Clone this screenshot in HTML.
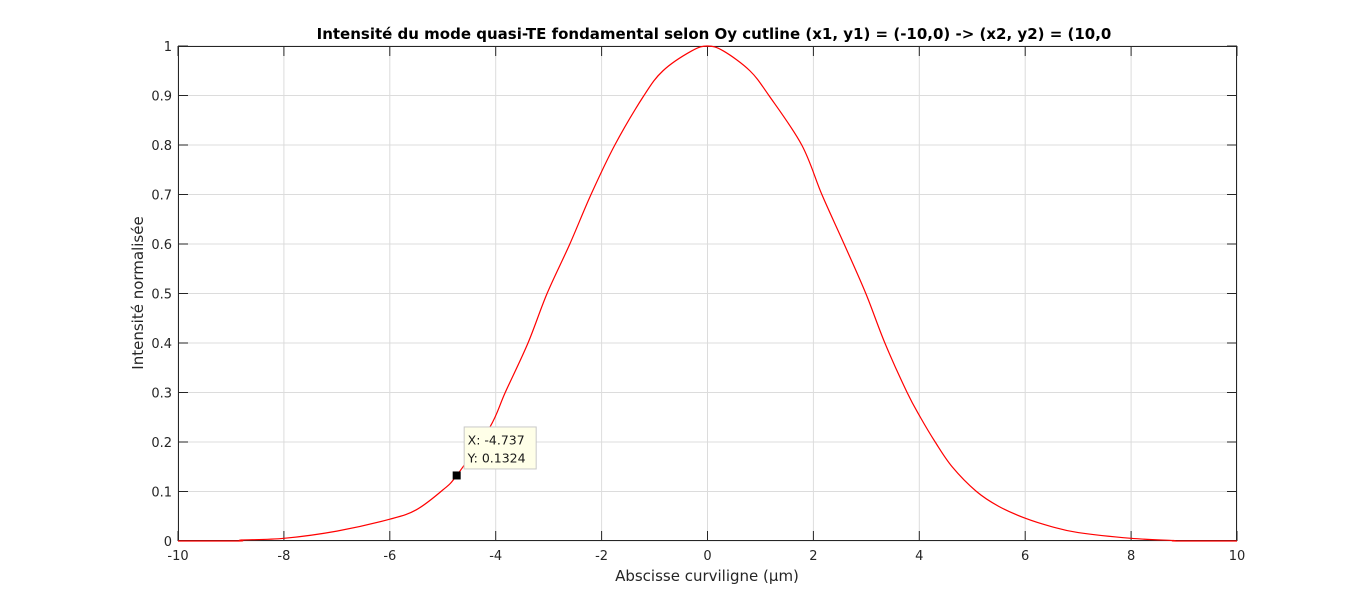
<!DOCTYPE html>
<html><head><meta charset="utf-8"><style>
body{margin:0;background:#fff;width:1366px;height:609px;overflow:hidden}
svg{display:block;font-family:"DejaVu Sans","Liberation Sans",sans-serif}
</style></head><body>
<svg id="chart" width="1366" height="609">
<text x="714" y="39" text-anchor="middle" font-size="15" font-weight="bold" fill="#000">Intensité du mode quasi-TE fondamental selon Oy cutline (x1, y1) = (-10,0) -&gt; (x2, y2) = (10,0</text>
<g id="grid"></g><g id="axes"></g><g id="series"></g><g id="tip"></g>
<text x="707" y="581" text-anchor="middle" font-size="15" fill="#262626">Abscisse curviligne (µm)</text>
<text transform="translate(143,293) rotate(-90)" text-anchor="middle" font-size="15" fill="#262626">Intensité normalisée</text>
</svg>
<script>
const xData=[-10,-8.85,-8.8,-8,-7,-6,-5.5,-5,-4.737,-4.11,-3.82,-3.39,-3.03,-2.6,-2.2,-1.75,-1.2,-0.84,-0.3,0,0.3,0.8,1.16,1.78,2.16,2.58,2.99,3.35,3.77,4.02,4.3,4.62,5.08,5.5,6,6.5,7,8,8.8,8.85,10];
const yData=[0,0,0.002,0.0054,0.02,0.044,0.063,0.103,0.1324,0.23,0.3,0.4,0.5,0.6,0.7,0.8,0.9,0.95,0.99,1,0.99,0.95,0.9,0.8,0.7,0.6,0.5,0.4,0.3,0.25,0.2,0.15,0.1,0.07,0.046,0.029,0.017,0.0054,0.001,0,0];
const xTicks=[-10,-8,-6,-4,-2,0,2,4,6,8,10];
const yTicks=[0,0.1,0.2,0.3,0.4,0.5,0.6,0.7,0.8,0.9,1];
const yTickLabels=["0","0.1","0.2","0.3","0.4","0.5","0.6","0.7","0.8","0.9","1"];
const tipX=-4.737, tipY=0.1324;

const L=178,R=1237,T=46,B=541;
const sx=v=>L+(v+10)/20*(R-L);
const sy=v=>B-v*(B-T);
const NS="http://www.w3.org/2000/svg";
function mk(tag,attrs,parent){const e=document.createElementNS(NS,tag);for(const k in attrs)e.setAttribute(k,attrs[k]);parent.appendChild(e);return e;}
const grid=document.getElementById('grid'),axes=document.getElementById('axes'),series=document.getElementById('series'),tip=document.getElementById('tip');
mk('rect',{x:L,y:T,width:R-L,height:B-T,fill:'#fff'},grid);
xTicks.forEach(t=>{
  const x=sx(t);
  const g=mk('line',{x1:x,x2:x,y1:T,y2:B,stroke:'#dcdcdc','stroke-width':1},grid);
  
  
  mk('line',{x1:x,x2:x,y1:B,y2:B-10,stroke:'#262626'},axes);
  mk('line',{x1:x,x2:x,y1:T,y2:T+10,stroke:'#262626'},axes);
  const tx=mk('text',{x:x,y:B+19,'text-anchor':'middle','font-size':13,fill:'#262626'},axes);
  tx.textContent=String(t);
  
  
});
yTicks.forEach((t,i)=>{
  const y=sy(t);
  const g=mk('line',{x1:L,x2:R,y1:y,y2:y,stroke:'#dcdcdc','stroke-width':1},grid);
  
  
  mk('line',{x1:L,x2:L+10,y1:y,y2:y,stroke:'#262626'},axes);
  mk('line',{x1:R,x2:R-10,y1:y,y2:y,stroke:'#262626'},axes);
  const tx=mk('text',{x:L-6,y:y+5,'text-anchor':'end','font-size':13,fill:'#262626'},axes);
  tx.textContent=yTickLabels[i];
  
  
});
const box=mk('rect',{x:L+0.5,y:T+0.5,width:R-L-1,height:B-T-1,fill:'none',stroke:'#262626'},axes);


const P=xData.map((x,i)=>[sx(x),sy(yData[i])]);
let d=`M${P[0][0]},${P[0][1]}`;
for(let i=0;i<P.length-1;i++){
  const p0=P[Math.max(0,i-1)],p1=P[i],p2=P[i+1],p3=P[Math.min(P.length-1,i+2)];
  const c1=[p1[0]+(p2[0]-p0[0])/6,p1[1]+(p2[1]-p0[1])/6];
  const c2=[p2[0]-(p3[0]-p1[0])/6,p2[1]-(p3[1]-p1[1])/6];
  d+=` C${c1[0]},${Math.min(B,c1[1])} ${c2[0]},${Math.min(B,c2[1])} ${p2[0]},${p2[1]}`;
}
const line=mk('path',{d:d,fill:'none',stroke:'#ff0000','stroke-width':1.2},series);


const mx=sx(tipX),my=sy(tipY);
const mark=mk('rect',{x:mx-4,y:my-4,width:8,height:8,fill:'#000'},tip);


const tb=mk('rect',{x:mx+7.5,y:my-48.5,width:72,height:42,fill:'#ffffe8',stroke:'#c8c8c8'},tip);


const t1=mk('text',{x:mx+11,y:my-31,'font-size':12.5,fill:'#1a1a1a'},tip);
t1.textContent='X: '+tipX;


const t2=mk('text',{x:mx+11,y:my-13,'font-size':12.5,fill:'#1a1a1a'},tip);
t2.textContent='Y: '+tipY;


</script>
</body></html>
